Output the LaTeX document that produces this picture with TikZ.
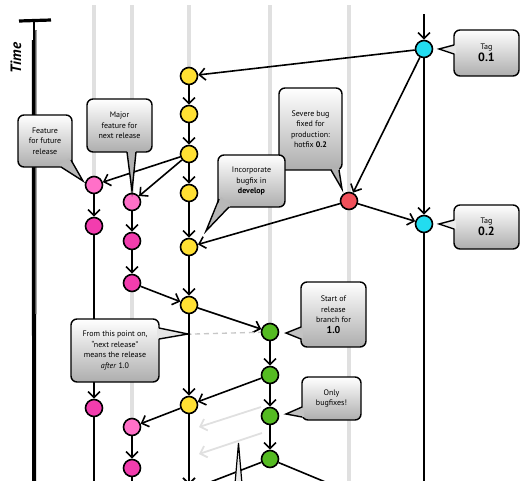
\documentclass[tikz,border=0pt]{standalone}
\usepackage{fontspec}
\setmainfont{PT Sans}
\usetikzlibrary{arrows.meta,calc,backgrounds}
\definecolor{lanec}{HTML}{E0E0E0}
\definecolor{yellowc}{HTML}{FFE033}
\definecolor{pinkl}{HTML}{FF70C8}
\definecolor{pinkd}{HTML}{F23DAE}
\definecolor{cyanc}{HTML}{22DCF0}
\definecolor{redc}{HTML}{F0505A}
\definecolor{greenc}{HTML}{55BB22}
\newcommand\calltail[5]{%
  \fill[#1] ($#2+#5$) -- #3 -- ($#4+#5$) -- cycle;
  \draw[line width=1.4pt,line join=miter] #2 -- #3 -- #4;}
\begin{document}
\begin{tikzpicture}[x=1pt,y=-1pt,
  commit/.style={circle,draw=black,line width=1.6pt,minimum size=17pt,inner sep=0pt},
  flow/.style={line width=1.6pt,-{Straight Barb[length=6pt,width=12pt,line width=1.6pt]}},
  plain/.style={line width=1.6pt},
  lanestyle/.style={lanec,line width=3.2pt},
  greyflow/.style={lanec,line width=1.8pt,-{Straight Barb[length=6pt,width=12pt,line width=1.8pt]}},
  dashgrey/.style={black!22,line width=1.4pt,dash pattern=on 5pt off 4pt},
  callout/.style={draw=black,line width=1.4pt,rounded corners=6pt,top color=white,bottom color=black!32,
    align=center,font=\fontsize{8}{10.5}\selectfont,inner sep=1pt}]
\useasboundingbox (0,0) rectangle (528,480);

% time axis
\draw[line width=2.8pt] (34,22) -- (34,484);
\draw[line width=1pt] (36,30) -- (35.6,484);
\draw[line width=1pt] (32.3,40) -- (32.6,484);
\draw[line width=3.2pt] (19,21) -- (51,20);
\node[rotate=90,font=\fontsize{15}{15}\selectfont\bfseries\itshape] (time) at (16,58) {Time};

% commits
\node[commit,fill=cyanc] (m1) at (424,49) {};
\node[commit,fill=cyanc] (m2) at (424,224) {};
\node[commit,fill=redc] (h1) at (349,201) {};
\node[commit,fill=yellowc] (d1) at (189,76) {};
\node[commit,fill=yellowc] (d2) at (189,114) {};
\node[commit,fill=yellowc] (d3) at (189,154) {};
\node[commit,fill=yellowc] (d4) at (189,193) {};
\node[commit,fill=yellowc] (d5) at (189,247) {};
\node[commit,fill=yellowc] (d6) at (189,305) {};
\node[commit,fill=yellowc] (d7) at (189,405) {};
\node[commit,fill=pinkl] (fa1) at (94,185) {};
\node[commit,fill=pinkd] (fa2) at (94,226) {};
\node[commit,fill=pinkd] (fa3) at (94,408) {};
\node[commit,fill=pinkl] (fb1) at (132,202) {};
\node[commit,fill=pinkd] (fb2) at (132,241) {};
\node[commit,fill=pinkd] (fb3) at (132,283) {};
\node[commit,fill=pinkl] (fb4) at (132,427) {};
\node[commit,fill=pinkd] (fb5) at (132,468) {};
\node[commit,fill=greenc] (r1) at (270,332) {};
\node[commit,fill=greenc] (r2) at (270,375) {};
\node[commit,fill=greenc] (r3) at (270,416) {};
\node[commit,fill=greenc] (r4) at (270,459) {};

% free ends
\coordinate (ta) at (94,5);
\coordinate (tb) at (132,5);
\coordinate (td) at (189,5);
\coordinate (tr) at (270,5);
\coordinate (th) at (349,5);
\coordinate (bh) at (349,485);
\coordinate (mtop) at (424,14);
\coordinate (mend) at (424,485);
\coordinate (dend) at (189,485);
\coordinate (faend) at (94,485);
\coordinate (fbend) at (132,485);
\coordinate (rdev) at (200,486);
\coordinate (rmas) at (335,486);
\coordinate (dlane) at (195,334);
\coordinate (g1s) at (261,407);
\coordinate (g1e) at (199,427);
\coordinate (g2s) at (262,433);
\coordinate (g2e) at (199,454);

\begin{scope}[on background layer]
  \draw[lanestyle] (ta) -- (fa1);
  \draw[lanestyle] (tb) -- (fb1);
  \draw[lanestyle] (fb3) -- (fb4);
  \draw[lanestyle] (td) -- (d1);
  \draw[lanestyle] (tr) -- (r1);
  \draw[lanestyle] (th) -- (bh);
  \draw[flow] (mtop) -- (m1);
  \draw[flow] (m1) -- (d1);
  \draw[flow] (m1) -- (h1);
  \draw[flow] (m1) -- (m2);
  \draw[plain] (m2) -- (mend);
  \draw[flow] (h1) -- (m2);
  \draw[flow] (h1) -- (d5);
  \draw[flow] (d1) -- (d2);
  \draw[flow] (d2) -- (d3);
  \draw[flow] (d3) -- (d4);
  \draw[flow] (d4) -- (d5);
  \draw[flow] (d5) -- (d6);
  \draw[flow] (d6) -- (d7);
  \draw[flow] (d7) -- (dend);
  \draw[flow] (d3) -- (fa1);
  \draw[flow] (d3) -- (fb1);
  \draw[flow] (fa1) -- (fa2);
  \draw[flow] (fa2) -- (fa3);
  \draw[plain] (fa3) -- (faend);
  \draw[flow] (fb1) -- (fb2);
  \draw[flow] (fb2) -- (fb3);
  \draw[flow] (fb3) -- (d6);
  \draw[flow] (d6) -- (r1);
  \draw[flow] (r1) -- (r2);
  \draw[flow] (r2) -- (r3);
  \draw[flow] (r3) -- (r4);
  \draw[flow] (r2) -- (d7);
  \draw[flow] (d7) -- (fb4);
  \draw[flow] (fb4) -- (fb5);
  \draw[plain] (fb5) -- (fbend);
  \draw[plain] (r4) -- (rdev);
  \draw[plain] (r4) -- (rmas);
  \draw[dashgrey] (dlane) -- (r1);
  \draw[greyflow] (g1s) -- (g1e);
  \draw[greyflow] (g2s) -- (g2e);
\end{scope}

% callouts
\node[callout,minimum width=65pt,minimum height=46pt] (tag1) at (486.5,53)
  {Tag\\[1pt]{\fontsize{12}{12}\selectfont\bfseries 0.1}};
\calltail{black!10}{(454,45)}{(439,49)}{(454,54)}{(2,0)}
\node[callout,minimum width=65pt,minimum height=44pt] (tag2) at (486.5,227)
  {Tag\\[1pt]{\fontsize{12}{12}\selectfont\bfseries 0.2}};
\calltail{black!8}{(454,220)}{(439,224)}{(454,229)}{(2,0)}
\node[callout,minimum width=63pt,minimum height=82pt] (sev) at (310.5,129)
  {Severe bug\\fixed for\\production:\\hotfix \textbf{0.2}};
\calltail{black!30}{(331,170)}{(342,189)}{(339,170)}{(0,-2)}
\node[callout,minimum width=67pt,minimum height=52pt] (inc) at (251.5,181)
  {Incorporate\\bugfix in\\\textbf{develop}};
\calltail{black!28}{(219,199)}{(206,231)}{(229,207)}{(2,-2)}
\node[callout,minimum width=54pt,minimum height=52pt] (feat) at (45,141)
  {Feature\\for future\\release};
\calltail{black!28}{(61,167)}{(83,181)}{(71,160)}{(-2,-2)}
\node[callout,minimum width=65pt,minimum height=53pt] (major) at (119.5,125.5)
  {Major\\feature for\\next release};
\calltail{black!30}{(127,152)}{(132,191)}{(136,152)}{(0,-2)}
\node[callout,minimum width=88pt,minimum height=63pt] (point) at (115,350.5)
  {From this point on,\\“next release”\\means the release\\\textit{after} 1.0};
\calltail{black!10}{(159,328)}{(188,334)}{(159,339)}{(-2,0)}
\node[callout,minimum width=65pt,minimum height=65pt] (start) at (333.5,314.5)
  {Start of\\release\\branch for\\{\fontsize{10}{12}\selectfont\bfseries 1.0}};
\calltail{black!24}{(301,327)}{(286,333)}{(301,339)}{(2,0)}
\node[callout,minimum width=59pt,minimum height=43pt] (bugs) at (331.5,398.5)
  {Only\\bugfixes!};
\calltail{black!24}{(302,407)}{(286,414)}{(302,417)}{(2,0)}
% tail of a callout below the frame
\coordinate (ltip) at (238.5,443);
\fill[black!8] (235,484) -- (ltip) -- (242,484) -- cycle;
\draw[line width=1.2pt,line join=miter] (235,484) -- (ltip) -- (242,484);
\end{tikzpicture}
\end{document}
